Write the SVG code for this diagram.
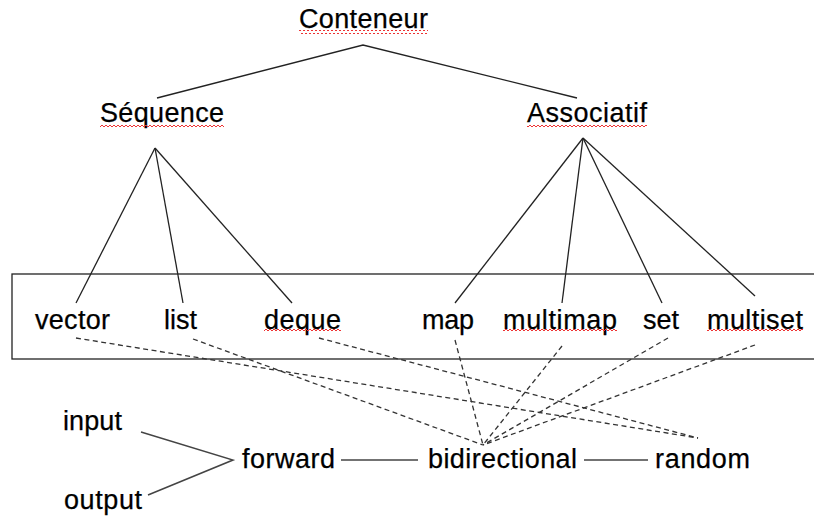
<svg xmlns="http://www.w3.org/2000/svg" width="814" height="518" viewBox="0 0 814 518">
<style>
text{font-family:"Liberation Sans",Arial,sans-serif;font-size:27px;fill:#000;stroke:#000;stroke-width:0.25}
.solid{stroke:#222;stroke-width:1.3;fill:none}
.gray{stroke:#444;stroke-width:1.5;fill:none}
.dash{stroke:#333;stroke-width:1.3;stroke-dasharray:5,3.5;fill:none}
.sq{fill:url(#squig)}
</style>
<defs>
<pattern id="squig" width="4" height="4" patternUnits="userSpaceOnUse">
<path d="M0 3 L2 1 L4 3" stroke="#e33" stroke-width="1" fill="none"/>
</pattern>
</defs>
<rect x="0" y="0" width="814" height="518" fill="#fff"/>
<rect id="box" x="12" y="274" width="820" height="85" fill="none" stroke="#222" stroke-width="1.3"/>
<g id="connectors">
<polyline class="solid" points="157,98 363,45 577,98"/>
<line class="solid" x1="155" y1="148" x2="76" y2="303"/>
<line class="solid" x1="155" y1="148" x2="183" y2="303"/>
<line class="solid" x1="155" y1="148" x2="292" y2="303"/>
<line class="solid" x1="583" y1="138" x2="455" y2="303"/>
<line class="solid" x1="583" y1="138" x2="562" y2="303"/>
<line class="solid" x1="583" y1="138" x2="662" y2="303"/>
<line class="solid" x1="583" y1="138" x2="755" y2="296"/>
<line class="dash" x1="76" y1="338" x2="698" y2="438"/>
<line class="dash" x1="319" y1="338" x2="698" y2="438"/>
<line class="dash" x1="193" y1="339" x2="483" y2="445"/>
<line class="dash" x1="455" y1="340" x2="483" y2="445"/>
<line class="dash" x1="562" y1="346" x2="483" y2="445"/>
<line class="dash" x1="668" y1="338" x2="483" y2="445"/>
<line class="dash" x1="755" y1="345" x2="483" y2="445"/>
<polyline class="gray" points="141,432 233,460 148,495"/>
<line class="gray" x1="341" y1="460" x2="418" y2="460"/>
<line class="gray" x1="584" y1="460" x2="648" y2="460"/>
</g>
<g id="conteneur"><text x="299" y="28" textLength="129">Conteneur</text><rect class="sq" x="299" y="30" width="129" height="4"/></g>
<g id="sequence"><text x="100" y="122" textLength="124">Séquence</text><rect class="sq" x="100" y="123" width="124" height="4"/></g>
<g id="associatif"><text x="527" y="122" textLength="120">Associatif</text><rect class="sq" x="527" y="124" width="120" height="4"/></g>
<g id="vector"><text x="35" y="329" textLength="75">vector</text></g>
<g id="list"><text x="164" y="329" textLength="33">list</text></g>
<g id="deque"><text x="264" y="329" textLength="77">deque</text><rect class="sq" x="264" y="329" width="77" height="4"/></g>
<g id="map"><text x="422" y="329" textLength="52">map</text></g>
<g id="multimap"><text x="503" y="329" textLength="114">multimap</text><rect class="sq" x="503" y="329" width="114" height="4"/></g>
<g id="set"><text x="643" y="329" textLength="36">set</text></g>
<g id="multiset"><text x="707" y="329" textLength="96">multiset</text><rect class="sq" x="707" y="329" width="96" height="4"/></g>
<g id="input"><text x="63" y="430" textLength="59">input</text></g>
<g id="output"><text x="64" y="509" textLength="78">output</text></g>
<g id="forward"><text x="242" y="468" textLength="93">forward</text></g>
<g id="bidirectional"><text x="428" y="468" textLength="149">bidirectional</text></g>
<g id="random"><text x="655" y="468" textLength="95">random</text></g>
</svg>
